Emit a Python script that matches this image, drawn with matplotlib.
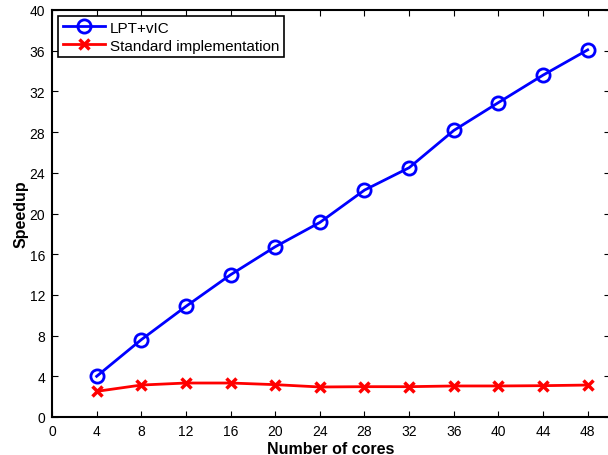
import matplotlib
matplotlib.use("Agg")
import matplotlib.pyplot as plt

plt.rcParams['font.family'] = ['Liberation Sans', 'DejaVu Sans']

# число ядер і прискорення
cores = [4, 8, 12, 16, 20, 24, 28, 32, 36, 40, 44, 48]
speedup_lpt = [4.0, 7.6, 10.87, 13.98, 16.73, 19.12, 22.3, 24.5, 28.16, 30.9, 33.6, 36.08]
speedup_std = [2.52, 3.14, 3.34, 3.34, 3.18, 2.95, 2.98, 2.98, 3.05, 3.05, 3.08, 3.14]

x_ticks = list(range(0, 49, 4))
y_ticks = list(range(0, 41, 4))

fig = plt.figure(figsize=(6.08, 4.56), dpi=100)
ax = fig.add_axes([52 / 608, 38 / 456, 558 / 608, 407 / 456])

ax.plot(cores, speedup_lpt, color='#0000ff', lw=2, marker='o', ms=9.5,
        mfc='none', mew=2, label='LPT+vIC')
ax.plot(cores, speedup_std, color='#ff0000', lw=2, marker='x', ms=6.5,
        mew=2.5, label='Standard implementation')

ax.set_xlim(0, 50)
ax.set_ylim(0, 40)
ax.set_xticks(x_ticks)
ax.set_yticks(y_ticks)
ax.tick_params(direction='in', top=True, right=True, labelsize=10, length=4, pad=5)
for s in ax.spines.values():
    s.set_linewidth(1.5)

ax.set_xlabel('Number of cores', fontsize=11.5, fontweight='bold', labelpad=2)
ax.set_ylabel('Speedup', fontsize=11.5, fontweight='bold', labelpad=1)

leg = ax.legend(loc='upper left', fontsize=11, fancybox=False, framealpha=1,
                edgecolor='black', borderpad=0.3, handlelength=2.75,
                labelspacing=0.25, borderaxespad=0.4, handletextpad=0.35)
leg.get_frame().set_linewidth(1.2)

fig.savefig('out.png', dpi=100)
